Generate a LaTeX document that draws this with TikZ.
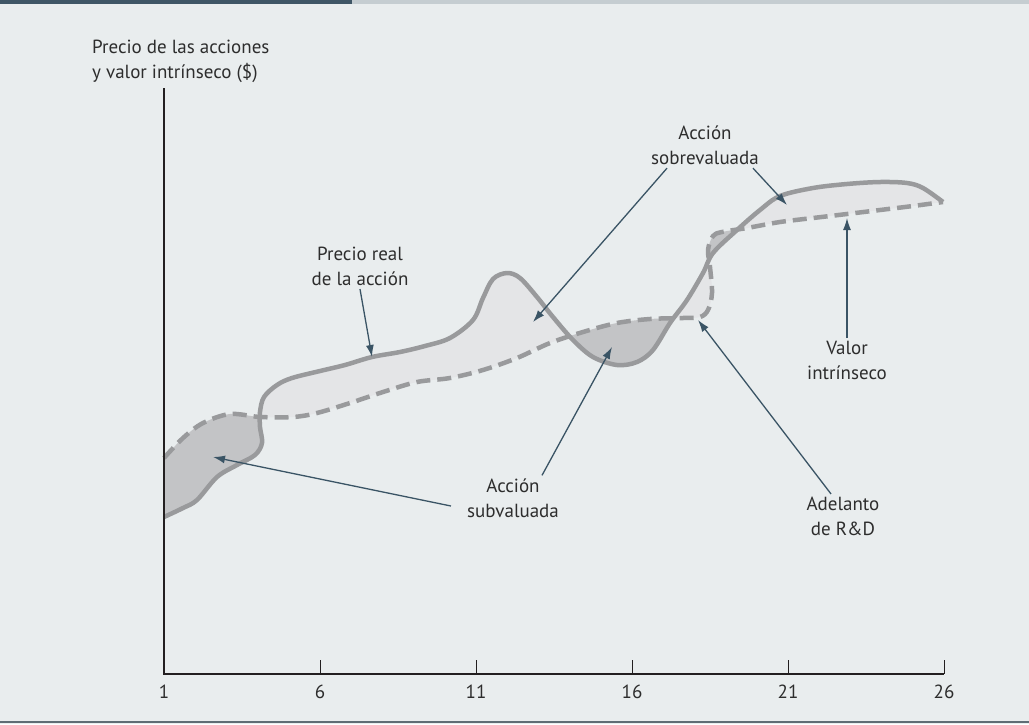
\documentclass[tikz,border=0pt]{standalone}
\usepackage{fontspec}
\setmainfont{PT Sans}
\usepackage{tikz}
\usetikzlibrary{arrows.meta,positioning}
\definecolor{bgpanel}{HTML}{E9EDEE}
\definecolor{bardark}{HTML}{3F5666}
\definecolor{barlight}{HTML}{C5CDD1}
\definecolor{rulegray}{HTML}{5F6D75}
\definecolor{curvegray}{HTML}{999A9C}
\definecolor{overfill}{HTML}{E4E5E7}
\definecolor{underfill}{HTML}{C3C4C6}
\definecolor{arrowslate}{HTML}{3A5465}
\definecolor{axisink}{HTML}{231F20}
\definecolor{inkgray}{HTML}{2D2D2D}
\tikzset{
  axis/.style={line width=2pt,axisink},
  tick/.style={line width=1pt,axisink},
  pricecurve/.style={line width=4.5pt,curvegray,line join=round},
  valuecurve/.style={pricecurve,dash pattern=on 14pt off 7pt},
  callout/.style={align=center,inner sep=3pt,text=inkgray},
  every node/.style={font=\fontsize{19}{25}\selectfont}
}
\tikzstyle{arrow} = [line width=1.3pt,arrowslate,-{Latex[length=12pt,width=8pt]}]
% the two curves, in picture pixels
\newcommand{\pricepath}{plot[smooth,tension=0.55] coordinates {
  (164,517) (183,508) (197,500) (217,477) (237,465) (255,455) (262,443)
  (260,427) (260,412) (264,397) (277,385) (292,378) (320,371) (345,365)
  (372,357) (400,352) (425,346) (450,338) (473,320) (483,298) (493,279)
  (507,273) (520,278) (537,297) (553,317) (573,340) (593,357) (617,365)
  (637,362) (653,350) (670,323) (687,300) (703,273) (713,253) (737,230)
  (760,210) (780,196) (813,188) (847,184) (880,182) (907,183) (923,188)
  (943,202)}}
\newcommand{\valuepath}{plot[smooth,tension=0.55] coordinates {
  (164,458) (183,438) (203,423) (230,414) (260,417) (293,417) (317,413)
  (350,403) (383,392) (417,382) (450,378) (483,370) (517,358) (550,343)
  (583,332) (617,323) (650,319) (683,318) (700,317) (708,310) (712,293)
  (710,267) (708,250) (713,236) (722,232) (747,228) (780,222) (813,218)
  (847,214) (880,210) (913,206) (943,202)}}

\begin{document}
\begin{tikzpicture}[x=1pt,y=-1pt]
  % panel
  \fill[bgpanel] (0,0) rectangle (1029,724);
  \useasboundingbox (0,0) rectangle (1029,724);
  \fill[barlight] (0,0) rectangle (1029,4);
  \fill[bardark] (0,0) rectangle (352,4);
  \draw[line width=1.5pt,rulegray] (0,722) -- (1029,722);
  % shaded gaps between price and value
  \begin{scope}
    \clip \pricepath -- (943,724) -- (164,724) -- cycle;
    \fill[overfill] \valuepath -- (943,0) -- (164,0) -- cycle;
  \end{scope}
  \begin{scope}
    \clip \valuepath -- (943,724) -- (164,724) -- cycle;
    \fill[underfill] \pricepath -- (943,0) -- (164,0) -- cycle;
  \end{scope}
  \draw[pricecurve] \pricepath;
  \draw[valuecurve] \valuepath;
  % axes
  \draw[axis] (164,88) -- (164,674) -- (944,674);
  \foreach \n/\x in {1/164,6/320,11/476,16/632,21/788,26/944}{
    \draw[tick] (\x,660) -- (\x,674);
    \node[anchor=base,text=inkgray] (t\n) at (\x,698) {\n};
  }
  \node[callout,anchor=west,align=left,inner sep=0pt] (ylab) at (92,61.5)
    {Precio de las acciones\\y valor intrínseco (\$)};
  % labels
  \node[callout] (real) at (360,266.5) {Precio real\\de la acción};
  \node[callout] (sobre) at (705,145.5) {Acción\\sobrevaluada};
  \node[callout] (valor) at (847,360.5) {Valor\\intrínseco};
  \node[callout] (adel) at (843,516.5) {Adelanto\\de R\&D};
  \node[callout] (sub) at (513,498) {Acción\\subvaluada};
  \coordinate (tipReal) at (372,357);
  \coordinate (tipOverA) at (533,322);
  \coordinate (tipOverB) at (787,205);
  \coordinate (tipValor) at (847,218);
  \coordinate (tipAdel) at (698,320);
  \coordinate (tipSubA) at (612,347);
  \coordinate (tipSubB) at (213,457);
  \draw[arrow] (real.south) -- (tipReal);
  \draw[arrow] ([xshift=19pt]sobre.south west) -- (tipOverA);
  \draw[arrow] ([xshift=-9pt]sobre.south east) -- (tipOverB);
  \draw[arrow] (valor.north) -- (tipValor);
  \draw[arrow] ([xshift=-12pt]adel.north) -- (tipAdel);
  \draw[arrow] ([xshift=29pt]sub.north) -- (tipSubA);
  \draw[arrow] ([xshift=-13pt,yshift=-8pt]sub.west) -- (tipSubB);
\end{tikzpicture}
\end{document}
